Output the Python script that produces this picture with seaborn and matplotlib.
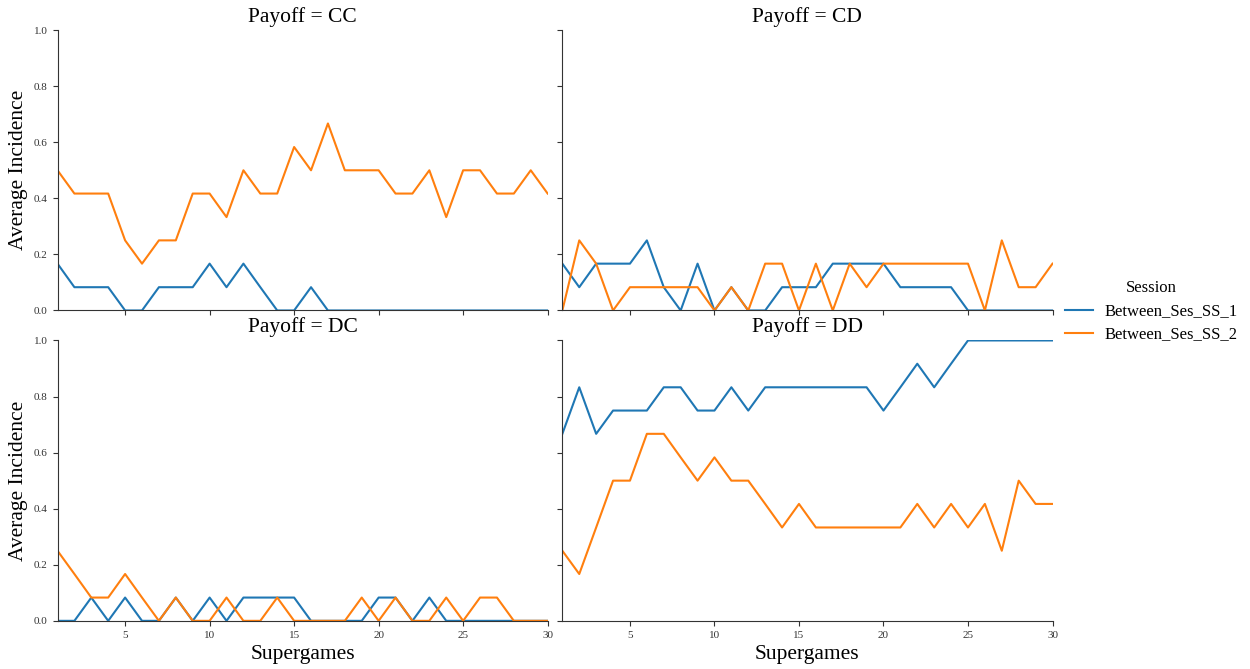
import matplotlib
matplotlib.use("Agg")
import matplotlib.pyplot as plt
import seaborn as sns
import pandas as pd

plt.rcParams["font.family"] = ["Liberation Serif", "DejaVu Serif"]

# supergames 1..30
supergames = list(range(1, 31))
payoffs = ["CC", "CD", "DC", "DD"]
sessions = ["Between_Ses_SS_1", "Between_Ses_SS_2"]

# average incidence per payoff outcome
cc_ss1 = [0.167, 0.083, 0.083, 0.083, 0.0, 0.0, 0.083, 0.083, 0.083, 0.167,
          0.083, 0.167, 0.083, 0.0, 0.0, 0.083, 0.0, 0.0, 0.0, 0.0,
          0.0, 0.0, 0.0, 0.0, 0.0, 0.0, 0.0, 0.0, 0.0, 0.0]
cc_ss2 = [0.5, 0.417, 0.417, 0.417, 0.25, 0.167, 0.25, 0.25, 0.417, 0.417,
          0.333, 0.5, 0.417, 0.417, 0.583, 0.5, 0.667, 0.5, 0.5, 0.5,
          0.417, 0.417, 0.5, 0.333, 0.5, 0.5, 0.417, 0.417, 0.5, 0.417]

cd_ss1 = [0.167, 0.083, 0.167, 0.167, 0.167, 0.25, 0.083, 0.0, 0.167, 0.0,
          0.083, 0.0, 0.0, 0.083, 0.083, 0.083, 0.167, 0.167, 0.167, 0.167,
          0.083, 0.083, 0.083, 0.083, 0.0, 0.0, 0.0, 0.0, 0.0, 0.0]
cd_ss2 = [0.0, 0.25, 0.167, 0.0, 0.083, 0.083, 0.083, 0.083, 0.083, 0.0,
          0.083, 0.0, 0.167, 0.167, 0.0, 0.167, 0.0, 0.167, 0.083, 0.167,
          0.167, 0.167, 0.167, 0.167, 0.167, 0.0, 0.25, 0.083, 0.083, 0.167]

dc_ss1 = [0.0, 0.0, 0.083, 0.0, 0.083, 0.0, 0.0, 0.083, 0.0, 0.083,
          0.0, 0.083, 0.083, 0.083, 0.083, 0.0, 0.0, 0.0, 0.0, 0.083,
          0.083, 0.0, 0.083, 0.0, 0.0, 0.0, 0.0, 0.0, 0.0, 0.0]
dc_ss2 = [0.25, 0.167, 0.083, 0.083, 0.167, 0.083, 0.0, 0.083, 0.0, 0.0,
          0.083, 0.0, 0.0, 0.083, 0.0, 0.0, 0.0, 0.0, 0.083, 0.0,
          0.083, 0.0, 0.0, 0.083, 0.0, 0.083, 0.083, 0.0, 0.0, 0.0]

dd_ss1 = [0.667, 0.833, 0.667, 0.75, 0.75, 0.75, 0.833, 0.833, 0.75, 0.75,
          0.833, 0.75, 0.833, 0.833, 0.833, 0.833, 0.833, 0.833, 0.833, 0.75,
          0.833, 0.917, 0.833, 0.917, 1.0, 1.0, 1.0, 1.0, 1.0, 1.0]
dd_ss2 = [0.25, 0.167, 0.333, 0.5, 0.5, 0.667, 0.667, 0.583, 0.5, 0.583,
          0.5, 0.5, 0.417, 0.333, 0.417, 0.333, 0.333, 0.333, 0.333, 0.333,
          0.333, 0.417, 0.333, 0.417, 0.333, 0.417, 0.25, 0.5, 0.417, 0.417]

series = {
    ("CC", sessions[0]): cc_ss1, ("CC", sessions[1]): cc_ss2,
    ("CD", sessions[0]): cd_ss1, ("CD", sessions[1]): cd_ss2,
    ("DC", sessions[0]): dc_ss1, ("DC", sessions[1]): dc_ss2,
    ("DD", sessions[0]): dd_ss1, ("DD", sessions[1]): dd_ss2,
}

rows = []
for (payoff, session), vals in series.items():
    for sg, v in zip(supergames, vals):
        rows.append({"Payoff": payoff, "Session": session,
                     "Supergames": sg, "Average Incidence": v})
df = pd.DataFrame(rows)

g = sns.relplot(data=df, x="Supergames", y="Average Incidence",
                hue="Session", hue_order=sessions, col="Payoff",
                col_order=payoffs, col_wrap=2, kind="line",
                height=3, aspect=1.6, linewidth=1.5,
                facet_kws={"sharex": True, "sharey": True})

g.set(xlim=(1, 30), ylim=(0, 1))
g.set(xticks=[5, 10, 15, 20, 25, 30], yticks=[0, 0.2, 0.4, 0.6, 0.8, 1.0])
g.set_titles("Payoff = {col_name}", size=15.5)
g.set_axis_labels("Supergames", "Average Incidence", fontsize=15.5)
for ax in g.axes.flat:
    ax.tick_params(labelsize=8, length=3.5, width=0.8, colors="#333333")
    for sp in ax.spines.values():
        sp.set_linewidth(0.8)
        sp.set_color("#333333")

g.fig.set_size_inches(12.5, 6.69)
g.fig.subplots_adjust(left=0.046, right=0.842, top=0.955, bottom=0.072,
                      wspace=0.03, hspace=0.107)

leg = g._legend
leg.set_bbox_to_anchor((1.0, 0.535))
leg.get_title().set_fontsize(12)
for t in leg.get_texts():
    t.set_fontsize(12)

g.fig.savefig("out.png", dpi=100)
